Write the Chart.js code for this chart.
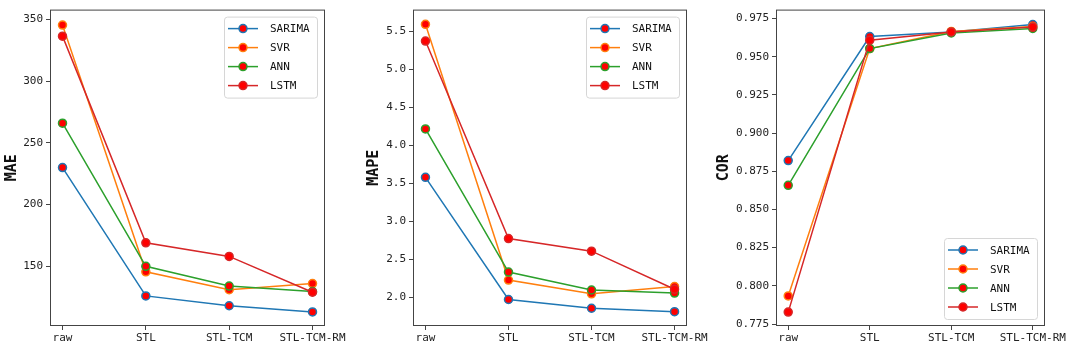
<!DOCTYPE html>
<html>
<head>
<meta charset="utf-8">
<script src="https://cdn.jsdelivr.net/npm/chart.js@4.4.0/dist/chart.umd.min.js"></script>
<style>
  body { margin: 0; background: #fff; width: 1072px; height: 348px; position: relative; overflow: hidden; }
  canvas { position: absolute; left: 0; top: 0; }
</style>
</head>
<body>
<canvas id="grafMae" width="1072" height="348"></canvas>
<canvas id="grafMape" width="1072" height="348"></canvas>
<canvas id="grafCor" width="1072" height="348"></canvas>
<script>
const $ = id => document.getElementById(id);

const categorias = ['raw', 'STL', 'STL-TCM', 'STL-TCM-RM'];
const modelos = ['SARIMA', 'SVR', 'ANN', 'LSTM'];
const cores = ['#1f77b4', '#ff7f0e', '#2ca02c', '#d62728'];

const maeSarima = [230, 126, 118, 113];
const maeSvr = [345.5, 145.5, 131, 136];
const maeAnn = [266, 150, 134, 129.5];
const maeLstm = [336.5, 169, 158, 129];
const maeTicks = [150, 200, 250, 300, 350];

const mapeSarima = [3.58, 1.975, 1.86, 1.815];
const mapeSvr = [5.59, 2.23, 2.05, 2.145];
const mapeAnn = [4.215, 2.335, 2.10, 2.06];
const mapeLstm = [5.37, 2.775, 2.61, 2.11];
const mapeTicks = [2.0, 2.5, 3.0, 3.5, 4.0, 4.5, 5.0, 5.5];

const corSarima = [0.882, 0.9632, 0.9662, 0.971];
const corSvr = [0.7934, 0.9553, 0.9665, 0.9698];
const corAnn = [0.8658, 0.9553, 0.9655, 0.9685];
const corLstm = [0.7828, 0.9608, 0.9662, 0.9694];
const corTicks = [0.775, 0.8, 0.825, 0.85, 0.875, 0.9, 0.925, 0.95, 0.975];

const fonteMono = 'DejaVu Sans Mono';

// moldura do eixo + legenda estilo matplotlib
const molduraLegenda = {
  id: 'molduraLegenda',
  afterDraw(chart, args, opts) {
    const { ctx, chartArea: a } = chart;
    ctx.save();
    ctx.strokeStyle = '#444';
    ctx.lineWidth = 1;
    ctx.strokeRect(a.left + 0.5, a.top + 0.5, a.width - 1, a.height - 1);

    const w = 93, h = 81;
    const x = a.right - 8 - w;
    const y = opts.canto === 'baixo' ? a.bottom - 7 - h : a.top + 7;
    ctx.fillStyle = 'rgba(255,255,255,0.85)';
    ctx.strokeStyle = '#d6d6d6';
    ctx.beginPath();
    ctx.roundRect(x + 0.5, y + 0.5, w, h, 3);
    ctx.fill();
    ctx.stroke();

    ctx.font = `11px "${fonteMono}"`;
    ctx.textBaseline = 'middle';
    chart.data.datasets.forEach((ds, i) => {
      const ly = y + 12 + i * 19;
      ctx.strokeStyle = ds.borderColor;
      ctx.lineWidth = 1.5;
      ctx.beginPath();
      ctx.moveTo(x + 4, ly);
      ctx.lineTo(x + 34, ly);
      ctx.stroke();
      ctx.beginPath();
      ctx.arc(x + 19, ly, 4, 0, Math.PI * 2);
      ctx.fillStyle = ds.pointBackgroundColor;
      ctx.fill();
      ctx.stroke();
      ctx.fillStyle = '#111';
      ctx.fillText(ds.label, x + 46, ly + 1);
    });
    ctx.restore();
  }
};

const montarGrafico = (id, series, ticksY, min, max, titulo, casas, area, padTitulo, canto) => new Chart($(id), {
  type: 'line',
  data: {
    datasets: series.map((vals, i) => ({
      label: modelos[i],
      data: vals.map((v, j) => ({ x: j, y: v })),
      borderColor: cores[i],
      backgroundColor: cores[i],
      pointBackgroundColor: '#ff0000',
      pointBorderColor: cores[i],
      pointRadius: 4,
      pointBorderWidth: 1.5,
      borderWidth: 1.5,
      tension: 0,
      order: modelos.length - i
    }))
  },
  options: {
    responsive: false,
    animation: false,
    devicePixelRatio: 1,
    layout: { padding: { left: area.esq, right: 1072 - area.dir, top: 3, bottom: 0 } },
    plugins: { legend: { display: false }, tooltip: { enabled: false }, molduraLegenda: { canto } },
    scales: {
      x: {
        type: 'linear', min: -0.15, max: 3.15,
        afterBuildTicks: s => { s.ticks = categorias.map((_, i) => ({ value: i })); },
        afterFit: s => { s.height = 22; },
        ticks: { callback: v => categorias[v], font: { family: fonteMono, size: 11 }, color: '#222', padding: 2, maxRotation: 0, autoSkip: false },
        grid: { display: true, drawOnChartArea: false, tickLength: 4, color: '#444' },
        border: { display: false }
      },
      y: {
        type: 'linear', min, max,
        afterBuildTicks: s => { s.ticks = ticksY.map(v => ({ value: v })); },
        afterFit: s => { s.width = area.largY; },
        ticks: { callback: v => v.toFixed(casas), font: { family: fonteMono, size: 11 }, color: '#222', padding: 3 },
        grid: { display: true, drawOnChartArea: false, tickLength: 4, color: '#444' },
        border: { display: false },
        title: { display: true, text: titulo, font: { family: fonteMono, size: 15, weight: 'bold' }, color: '#111', padding: { top: padTitulo, bottom: 0 } }
      }
    }
  },
  plugins: [molduraLegenda]
});

montarGrafico('grafMae', [maeSarima, maeSvr, maeAnn, maeLstm], maeTicks, 101.6, 358, 'MAE', 0,
  { esq: 0, largY: 50, dir: 325 }, 3, 'topo');
montarGrafico('grafMape', [mapeSarima, mapeSvr, mapeAnn, mapeLstm], mapeTicks, 1.627, 5.783, 'MAPE', 1,
  { esq: 355, largY: 58, dir: 687 }, 10, 'topo');
montarGrafico('grafCor', [corSarima, corSvr, corAnn, corLstm], corTicks, 0.7737, 0.9808, 'COR', 3,
  { esq: 712, largY: 64, dir: 1045 }, 3, 'baixo');
</script>
</body>
</html>
